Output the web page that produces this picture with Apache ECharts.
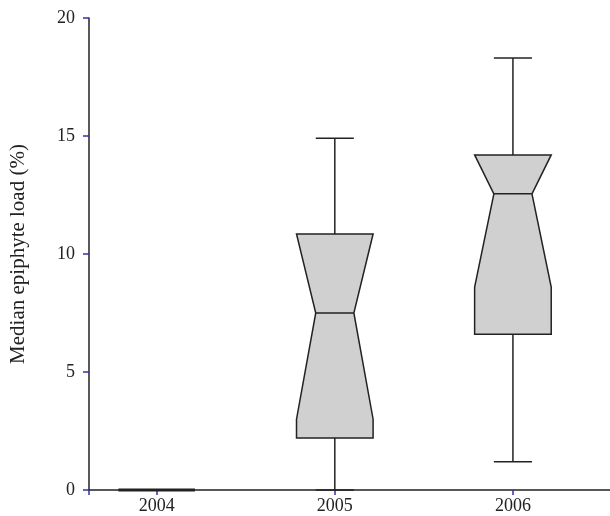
<!DOCTYPE html>
<html>
<head>
<meta charset="utf-8">
<script src="https://cdn.jsdelivr.net/npm/echarts@6/dist/echarts.min.js"></script>
<style>
  html, body { margin: 0; padding: 0; background: #fff; }
  #chart { width: 610px; height: 516px; }
</style>
</head>
<body>
<div id="chart"></div>
<script>
// Notched box-plot summaries per year
const years = [2004, 2005, 2006];
const whiskerLow = [0, 0, 1.2];
const q1 = [0, 2.2, 6.6];
const notchLow = [0, 3.0, 8.6];
const median = [0, 7.5, 12.55];
const q3 = [0, 10.85, 14.2];
const whiskerHigh = [0, 14.9, 18.3];
const yTicks = [0, 5, 10, 15, 20];

const FONT = 'Liberation Serif';
const BOX_HALF = 0.215;   // half box width in year units
const NOTCH_HALF = 0.107; // half width at the median
const CAP_HALF = 0.107;

const data = years.map((y, i) => [y, whiskerLow[i], q1[i], notchLow[i], median[i], q3[i], whiskerHigh[i]]);

function renderBox(params, api) {
  const x = api.value(0);
  const wl = api.value(1), a = api.value(2), nl = api.value(3), m = api.value(4), b = api.value(5), wh = api.value(6);
  const P = (dx, v) => api.coord([x + dx, v]);
  const stroke = { stroke: '#222', lineWidth: 1.5, fill: null };
  const flat = a === b; // degenerate box: all values equal
  const poly = [
    P(-BOX_HALF, a), P(BOX_HALF, a), P(BOX_HALF, nl), P(NOTCH_HALF, m), P(BOX_HALF, b),
    P(-BOX_HALF, b), P(-NOTCH_HALF, m), P(-BOX_HALF, nl)
  ];
  const children = [
    { type: 'line', shape: { x1: P(0, wl)[0], y1: P(0, wl)[1], x2: P(0, a)[0], y2: P(0, a)[1] }, style: stroke },
    { type: 'line', shape: { x1: P(0, b)[0], y1: P(0, b)[1], x2: P(0, wh)[0], y2: P(0, wh)[1] }, style: stroke },
    { type: 'line', shape: { x1: P(-CAP_HALF, wl)[0], y1: P(-CAP_HALF, wl)[1], x2: P(CAP_HALF, wl)[0], y2: P(CAP_HALF, wl)[1] }, style: stroke },
    { type: 'line', shape: { x1: P(-CAP_HALF, wh)[0], y1: P(-CAP_HALF, wh)[1], x2: P(CAP_HALF, wh)[0], y2: P(CAP_HALF, wh)[1] }, style: stroke },
    { type: 'polygon', shape: { points: poly }, style: { fill: '#d0d0d0', stroke: '#222', lineWidth: flat ? 3 : 1.5, lineJoin: 'miter' } },
    { type: 'line', shape: { x1: P(-NOTCH_HALF, m)[0], y1: P(-NOTCH_HALF, m)[1], x2: P(NOTCH_HALF, m)[0], y2: P(NOTCH_HALF, m)[1] }, style: stroke }
  ];
  return { type: 'group', children };
}

const chart = echarts.init(document.getElementById('chart'), null, { renderer: 'canvas' });
chart.setOption({
  animation: false,
  grid: { left: 88, right: 0, top: 18, bottom: 26, containLabel: false },
  xAxis: {
    type: 'value',
    min: 2003.62,
    max: 2006.545,
    splitLine: { show: false },
    axisLine: { show: true, onZero: false, lineStyle: { color: '#222', width: 1.5 } },
    axisTick: { show: true, length: 5, customValues: [2003.62].concat(years), lineStyle: { color: '#33339a', width: 1.5 } },
    axisLabel: { customValues: years, formatter: v => String(v), color: '#222', fontFamily: FONT, fontSize: 18, margin: 7 }
  },
  yAxis: {
    type: 'value',
    min: 0, max: 20, interval: 5,
    name: 'Median epiphyte load (%)',
    nameLocation: 'middle',
    nameGap: 60,
    nameTextStyle: { color: '#222', fontFamily: FONT, fontSize: 21 },
    splitLine: { show: false },
    axisLine: { show: true, lineStyle: { color: '#222', width: 1.5 } },
    axisTick: { show: true, length: 6, lineStyle: { color: '#33339a', width: 1.5 } },
    axisLabel: { color: '#222', fontFamily: FONT, fontSize: 18, margin: 14, customValues: yTicks }
  },
  series: [{
    type: 'custom',
    renderItem: renderBox,
    encode: { x: 0, y: [1, 2, 3, 4, 5, 6] },
    data: data,
    clip: false
  }]
});
</script>
</body>
</html>
